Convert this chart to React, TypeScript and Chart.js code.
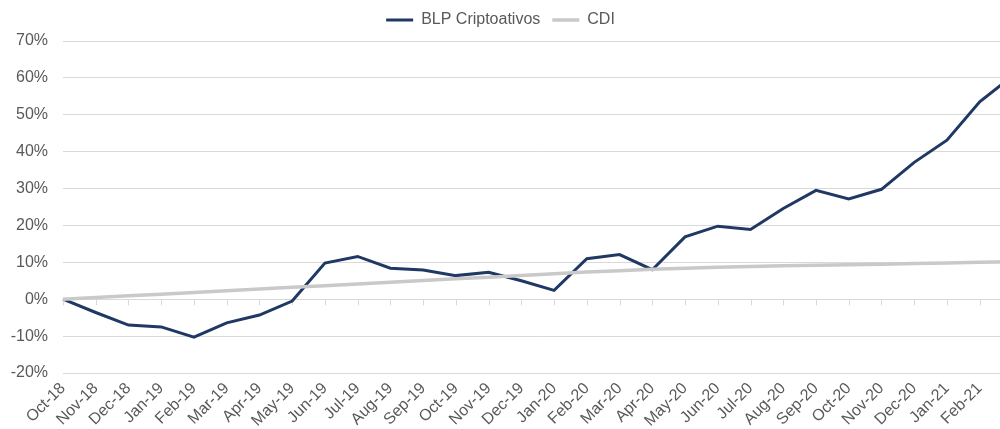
import { useEffect, useRef } from 'react';
import { Chart, registerables } from 'chart.js';

Chart.register(...registerables);

const categories = [
  'Oct-18', 'Nov-18', 'Dec-18',
  'Jan-19', 'Feb-19', 'Mar-19', 'Apr-19', 'May-19', 'Jun-19', 'Jul-19', 'Aug-19', 'Sep-19', 'Oct-19', 'Nov-19', 'Dec-19',
  'Jan-20', 'Feb-20', 'Mar-20', 'Apr-20', 'May-20', 'Jun-20', 'Jul-20', 'Aug-20', 'Sep-20', 'Oct-20', 'Nov-20', 'Dec-20',
  'Jan-21', 'Feb-21', 'Mar-21',
];

const blpValues = [
  0, -3.6, -7.0,
  -7.5, -10.3, -6.4, -4.3, -0.5, 9.8, 11.6, 8.4, 7.9, 6.4, 7.3, 5.0,
  2.4, 11.0, 12.1, 8.0, 16.9, 19.8, 18.9, 24.6, 29.5, 27.2, 29.8, 37.1,
  43.1, 53.5, 60.5,
];

const cdiValues = [
  0, 0.46, 0.92,
  1.38, 1.84, 2.3, 2.76, 3.22, 3.68, 4.14, 4.6, 5.06, 5.52, 5.98, 6.44,
  6.9, 7.35, 7.75, 8.1, 8.4, 8.65, 8.85, 9.05, 9.2, 9.35, 9.5, 9.7,
  9.85, 10.0, 10.15,
];

const yMin = -20;
const yMax = 70;
const yStep = 10;

const seriesNames = ['BLP Criptoativos', 'CDI'];
const seriesColors = ['#203864', '#c9c9c9'];

export default function App() {
  const ref = useRef<HTMLCanvasElement>(null);

  useEffect(() => {
    if (!ref.current) return;
    const font = { family: "'Liberation Sans', Arial, sans-serif", size: 16 };
    const textColor = '#595959';
    const gridColor = '#d9d9d9';

    const zeroTicks = {
      id: 'zeroTicks',
      beforeDatasetsDraw(chart: any) {
        const xs = chart.scales.x;
        const ys = chart.scales.y;
        const y0 = ys.getPixelForValue(0);
        const ctx = chart.ctx;
        ctx.save();
        ctx.strokeStyle = gridColor;
        ctx.lineWidth = 1;
        ctx.beginPath();
        for (let i = 0; i < categories.length; i++) {
          const x = Math.round(xs.getPixelForValue(i)) + 0.5;
          ctx.moveTo(x, y0);
          ctx.lineTo(x, y0 + 6);
        }
        ctx.stroke();
        ctx.restore();
      },
    };

    const legendFit = {
      id: 'legendFit',
      beforeUpdate(chart: any) {
        const lg = chart.legend;
        if (lg && !lg.__patched) {
          const orig = lg.fit.bind(lg);
          lg.fit = function () {
            orig();
            this.height = 41;
          };
          lg.__patched = true;
        }
      },
      afterLayout(chart: any) {
        const lg = chart.legend;
        if (lg) {
          lg.left -= 15;
          lg.right -= 15;
        }
      },
    };

    const chart = new Chart(ref.current, {
      type: 'line',
      data: {
        labels: categories,
        datasets: [
          {
            label: seriesNames[0],
            data: blpValues,
            borderColor: seriesColors[0],
            backgroundColor: seriesColors[0],
            borderWidth: 3,
            pointRadius: 0,
            tension: 0,
            order: 1,
          },
          {
            label: seriesNames[1],
            data: cdiValues,
            borderColor: seriesColors[1],
            backgroundColor: seriesColors[1],
            borderWidth: 3.5,
            pointRadius: 0,
            tension: 0,
            order: 0,
          },
        ],
      },
      options: {
        animation: false,
        responsive: true,
        maintainAspectRatio: false,
        layout: { padding: { left: 0, right: 1, top: 0, bottom: 0 } },
        plugins: {
          tooltip: { enabled: false },
          legend: {
            position: 'top',
            labels: {
              usePointStyle: true,
              pointStyle: 'line',
              pointStyleWidth: 27,
              boxHeight: 16,
              padding: 12,
              color: textColor,
              font,
              sort: (a: any, b: any) => a.datasetIndex - b.datasetIndex,
            },
          },
        },
        scales: {
          x: {
            type: 'category',
            offset: false,
            grid: { display: false, drawTicks: false },
            border: { display: false },
            afterFit: (s: any) => { s.height = 56; },
            ticks: {
              autoSkip: false,
              minRotation: 45,
              maxRotation: 45,
              padding: 6,
              color: textColor,
              font,
              callback: (_v: any, i: number) => (i === categories.length - 1 ? '' : categories[i]),
            },
          },
          y: {
            min: yMin,
            max: yMax,
            grid: { color: gridColor, lineWidth: 1, drawTicks: false },
            border: { display: false },
            afterFit: (s: any) => { s.width = 63; },
            ticks: {
              stepSize: yStep,
              padding: 15,
              color: textColor,
              font,
              callback: (v: any) => `${v}%`,
            },
          },
        },
      },
      plugins: [zeroTicks, legendFit],
    });
    return () => chart.destroy();
  }, []);

  return (
    <div style={{ position: 'fixed', left: 0, top: 0, width: 1000, height: 429, overflow: 'hidden', background: '#fff' }}>
      <div style={{ position: 'relative', width: 1032, height: 429 }}>
        <canvas ref={ref} />
      </div>
    </div>
  );
}
